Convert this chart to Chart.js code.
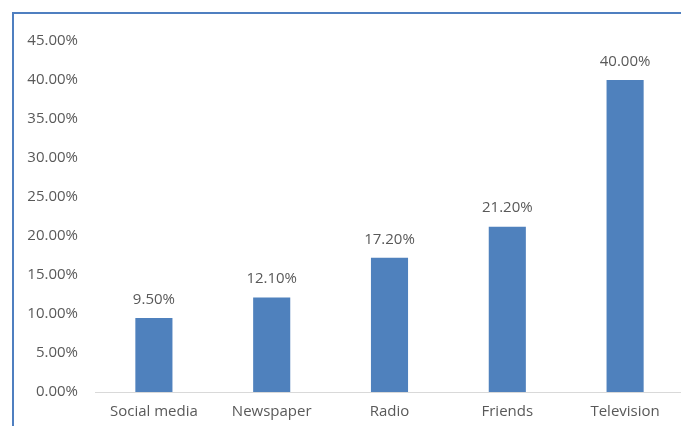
<!DOCTYPE html>
<html>
<head>
<meta charset="utf-8">
<script src="https://cdn.jsdelivr.net/npm/chart.js@4"></script>
<style>
  html, body { margin: 0; padding: 0; background: #fff; overflow: hidden; }
  .frame { position: absolute; left: 12px; top: 12px; width: 700px; height: 450px;
           border-left: 2px solid #4f7fc0; border-top: 2px solid #4f7fc0; }
  .wrap { position: absolute; left: 0; top: 0; width: 684px; height: 436px; }
</style>
</head>
<body>
<div class="frame"></div>
<div class="wrap"><canvas id="chart"></canvas></div>
<script>
// Sample Data
const categories = ['Social media', 'Newspaper', 'Radio', 'Friends', 'Television'];
const shares = [9.5, 12.1, 17.2, 21.2, 40.0];
const yTicks = [0, 5, 10, 15, 20, 25, 30, 35, 40, 45];

const fmt = v => v.toFixed(2) + '%';
const grey = '#595959';
const font = { family: '"Open Sans", sans-serif', size: 15 };

// draws the value above each bar
const barLabels = {
  id: 'barLabels',
  afterDatasetsDraw(chart) {
    const ctx = chart.ctx;
    const meta = chart.getDatasetMeta(0);
    ctx.save();
    ctx.font = font.size + 'px ' + font.family;
    ctx.fillStyle = grey;
    ctx.textAlign = 'center';
    ctx.textBaseline = 'bottom';
    meta.data.forEach((bar, i) => {
      ctx.fillText(fmt(shares[i]), bar.x, bar.y - 11);
    });
    ctx.restore();
  }
};

new Chart(document.getElementById('chart').getContext('2d'), {
  type: 'bar',
  data: {
    labels: categories,
    datasets: [{
      data: shares,
      backgroundColor: '#4f81bd',
      barPercentage: 0.63,
      categoryPercentage: 0.5
    }]
  },
  options: {
    responsive: true,
    maintainAspectRatio: false,
    animation: false,
    layout: { padding: { left: 15, top: 41, right: 0, bottom: 4 } },
    plugins: { legend: { display: false }, tooltip: { enabled: false } },
    scales: {
      x: {
        grid: { display: false, drawTicks: false },
        border: { display: true, color: '#d9d9d9', width: 1 },
        ticks: { color: grey, font: font, padding: 11, maxRotation: 0 }
      },
      y: {
        min: 0,
        max: 45,
        afterBuildTicks: s => { s.ticks = yTicks.map(v => ({ value: v })); },
        afterFit: s => { s.width = 80; },
        grid: { display: false, drawTicks: false },
        border: { display: false },
        ticks: { color: grey, font: font, padding: 17, callback: v => fmt(v) }
      }
    }
  },
  plugins: [barLabels]
});
</script>
</body>
</html>
